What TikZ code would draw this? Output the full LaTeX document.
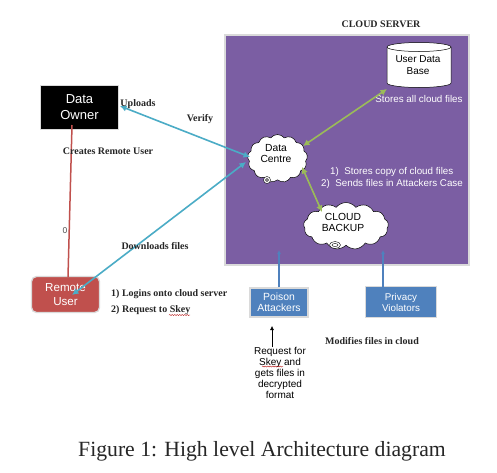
\documentclass[tikz,border=0pt]{standalone}
\usepackage{fontspec}
\setmainfont{Liberation Serif}
\newfontfamily\arialf{Liberation Sans}
\usetikzlibrary{shapes.symbols,shapes.geometric,arrows.meta,decorations.pathmorphing}
\definecolor{purp}{HTML}{7B5EA3}
\definecolor{olivec}{HTML}{9BBB59}
\definecolor{tealc}{HTML}{4BACC6}
\definecolor{redc}{HTML}{C0504D}
\definecolor{bluec}{HTML}{4F81BD}
\definecolor{edgec}{HTML}{DADADA}
\tikzset{
  lab/.style={font=\bfseries\fontsize{10}{11.5}\selectfont,inner sep=0pt,text=black!85},
  sans/.style={font=\arialf\fontsize{9.8}{11}\selectfont,inner sep=0pt,align=center},
  wsans/.style={sans,text=white},
  box/.style={draw=edgec,line width=1.3pt,inner sep=0pt,align=center,text=white},
  cloudn/.style={cloud,cloud puffs=13,cloud puff arc=105,cloud ignores aspect,draw=black,fill=white,line width=.5pt,inner sep=0pt},
  cloudt/.style={inner sep=0pt,align=center,font=\arialf\fontsize{10.3}{11}\selectfont},
  bub/.style={ellipse,draw=black,fill=white,line width=.4pt,inner sep=0pt},
  dbl/.style={{Latex[length=6.5pt,width=6.5pt]}-{Latex[length=6.5pt,width=6.5pt]},line width=1.6pt},
  upln/.style={-{Latex[length=4pt,width=4pt]},line width=1.5pt,bluec},
  wavy/.style={red!70!black,line width=.4pt,decorate,decoration={snake,amplitude=.5pt,segment length=2.5pt}},
}
\begin{document}
\begin{tikzpicture}[x=1pt,y=-1pt]
\useasboundingbox (0,0) rectangle (497,472);
\fill[white] (0,0) rectangle (497,472);
\node[draw=edgec,line width=1.3pt,fill=purp,minimum width=244pt,minimum height=230pt,inner sep=0pt] (srv) at (347,150) {};
\node[lab] (srvt) at (381,24) {CLOUD SERVER};
% database cylinder
\draw[black,fill=white,line width=.5pt] (387,47) -- (387,83)
  arc[start angle=180,end angle=0,x radius=32,y radius=4.5] -- (451,47)
  arc[start angle=0,end angle=-180,x radius=32,y radius=4.5] -- cycle;
\draw[black,line width=.5pt] (387,47) arc[start angle=180,end angle=0,x radius=32,y radius=4.5];
\node[cloudt,font=\arialf\fontsize{10}{11.5}\selectfont] (db) at (418,65) {User Data\\Base};
\node[wsans] (st) at (419,98.5) {Stores all cloud files};
\node[cloudn,minimum width=60pt,minimum height=48pt] (dc) at (277.5,158.5) {};
\node[cloudt] (dct) at (276,153.5) {Data\\Centre};
\node[bub,minimum width=7pt,minimum height=7pt] (dc1) at (267,180) {};
\node[bub,minimum width=3pt,minimum height=3pt] (dc2) at (267,180) {};
\node[cloudn,minimum width=85pt,minimum height=47pt] (cb) at (346,226) {};
\node[cloudt] (cbt) at (343,222.5) {CLOUD\\BACKUP};
\node[bub,minimum width=11pt,minimum height=7pt] (cb1) at (335,245) {};
\node[bub,minimum width=6pt,minimum height=3pt] (cb2) at (335,245) {};
\node[wsans,anchor=west] (t1) at (330,172) {1)\ \ Stores copy of cloud files};
\node[wsans,anchor=west] (t2) at (321,184) {2)\ \ Sends files in Attackers Case};
\node[draw=edgec,line width=1.3pt,fill=black,text=white,minimum width=78pt,minimum height=44pt,inner sep=0pt,align=center,font=\arialf\fontsize{13}{16}\selectfont] (own) at (79.5,107.5) {Data\\Owner};
\node[draw=edgec,line width=1.3pt,fill=redc,text=white,rounded corners=5pt,minimum width=68pt,minimum height=36pt,inner sep=0pt,align=center,font=\arialf\fontsize{11.6}{14}\selectfont] (ru) at (65.5,294.5) {Remote\\User};
\node[box,fill=bluec,minimum width=58pt,minimum height=29pt,font=\arialf\fontsize{10.4}{10.8}\selectfont] (pa) at (279,302.5) {Poison\\Attackers};
\node[box,fill=bluec,minimum width=71pt,minimum height=31pt,font=\arialf\fontsize{9.8}{11}\selectfont] (pv) at (401,302) {Privacy\\Violators};
\coordinate (pat) at (279,250);
\coordinate (pvt) at (383,250);
\coordinate (pvb) at (383,287);
\coordinate (ruin) at (72,295);
\coordinate (ownin) at (120,106);
\coordinate (olup) at (387,89);
\coordinate (oldc) at (303,146);
\coordinate (dcb) at (302,167);
\coordinate (cbc) at (322,212);
\coordinate (dcw) at (250,157);
\coordinate (dcw2) at (246,162);
\coordinate (ownb) at (72,125);
\coordinate (rut) at (68,277);
\draw[dbl,olivec] (olup) -- (oldc);
\draw[dbl,olivec] (dcb) -- (cbc);
\draw[dbl,tealc] (ownin) -- (dcw);
\draw[dbl,tealc] (ruin) -- (dcw2);
\draw[redc,line width=1.5pt] (ownb) -- (rut);
\draw[upln] (pa.north) -- (pat);
\draw[upln] (pvb) -- (pvt);
\node[font=\arialf\fontsize{8.5}{10}\selectfont,inner sep=0pt,text=black!70] (zero) at (65,231) {0};
\node[lab] (up) at (138,104) {Uploads};
\node[lab] (ver) at (200,119.5) {Verify};
\node[lab] (cr) at (108,151) {Creates Remote User};
\node[lab] (dl) at (155,246) {Downloads files};
\node[lab,anchor=west] (li) at (111,294) {1) Logins onto cloud server};
\node[lab,anchor=west] (rq) at (111,310) {2) Request to Skey};
\draw[wavy] (169,315) -- (190,315);
\node[lab] (mod) at (372,341.5) {Modifies files in cloud};
\node[sans,font=\arialf\fontsize{10}{11}\selectfont] (req) at (280,373) {Request for\\Skey and\\gets files in\\decrypted\\format};
\coordinate (arr) at (272,326);
\coordinate (arrb) at (272,347);
\draw[-{Latex[length=4pt,width=4pt]},line width=.5pt,black] (arrb) -- (arr);
\draw[wavy] (262,366.5) -- (283,366.5);
\node[font=\fontsize{21.7}{24}\selectfont,inner sep=0pt,text=black!85] (cap) at (262,451.5) {Figure 1: High level Architecture diagram};
\end{tikzpicture}
\end{document}
